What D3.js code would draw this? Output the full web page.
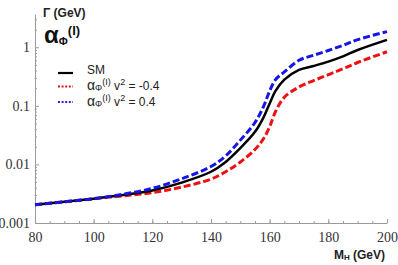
<!DOCTYPE html>
<html>
<head>
<meta charset="utf-8">
<script src="https://cdn.jsdelivr.net/npm/d3@7"></script>
<style>
  html, body { margin: 0; padding: 0; background: #fff; }
  svg { display: block; }
</style>
</head>
<body>
<div id="chart"></div>
<script>
// Higgs mass (GeV) and total width (GeV) for each curve
const masses     = [80, 90, 100, 110, 120, 130, 140, 145, 150, 155, 158, 160, 162, 165, 170, 175, 180, 185, 190, 200];
const widthSM    = [0.00205, 0.0023, 0.0026, 0.0030, 0.0036, 0.0049, 0.0075, 0.011, 0.019, 0.036, 0.065, 0.11, 0.18, 0.28, 0.41, 0.48, 0.57, 0.70, 0.90, 1.34];
const widthMinus = [0.00205, 0.0023, 0.0026, 0.0029, 0.0033, 0.0041, 0.0056, 0.0075, 0.011, 0.018, 0.028, 0.044, 0.08, 0.14, 0.21, 0.27, 0.34, 0.43, 0.55, 0.84];
const widthPlus  = [0.00205, 0.0023, 0.0026, 0.0031, 0.0039, 0.0057, 0.0092, 0.014, 0.026, 0.052, 0.10, 0.18, 0.28, 0.38, 0.60, 0.73, 0.88, 1.08, 1.35, 1.85];

const xTicks = [80, 100, 120, 140, 160, 180, 200];
const yTicks = [0.001, 0.01, 0.1, 1];
const yTickLabels = ["0.001", "0.01", "0.1", "1"];
const legendValues = ["-0.4", "0.4"];

const width = 398, height = 265;

const svg = d3.select("#chart").append("svg")
  .attr("width", width)
  .attr("height", height);

const x = d3.scaleLinear().domain([80, 200]).range([35, 387]);
const y = d3.scaleLog().domain([0.001, 3.7]).range([223, 14]);

/* minor ticks */
const xMinor = d3.range(80, 201, 5);
const yMinor = [];
[0.001, 0.01, 0.1, 1].forEach(d => {
  for (let k = 2; k <= 9; k++) if (d * k <= 3.7) yMinor.push(d * k);
});

const axisColor = "#9a9a9a";

svg.append("g")
  .attr("transform", "translate(0,223)")
  .call(d3.axisBottom(x).tickValues(xMinor).tickSize(-2).tickSizeOuter(0).tickFormat(""))
  .call(g => g.select(".domain").attr("stroke", axisColor))
  .call(g => g.selectAll(".tick line").attr("stroke", axisColor));

svg.append("g")
  .attr("transform", "translate(0,223)")
  .call(d3.axisBottom(x).tickValues(xTicks).tickSize(-4).tickSizeOuter(0).tickPadding(9))
  .call(g => g.select(".domain").remove())
  .call(g => g.selectAll(".tick line").attr("stroke", axisColor))
  .call(g => g.selectAll(".tick text")
    .attr("font-family", "'Liberation Serif', 'DejaVu Serif', serif")
    .attr("font-size", 14)
    .attr("fill", "#333"));

svg.append("g")
  .attr("transform", "translate(35,0)")
  .call(d3.axisLeft(y).tickValues(yMinor).tickSize(-2).tickSizeOuter(0).tickFormat(""))
  .call(g => g.select(".domain").attr("stroke", axisColor))
  .call(g => g.selectAll(".tick line").attr("stroke", axisColor));

svg.append("g")
  .attr("transform", "translate(35,0)")
  .call(d3.axisLeft(y).tickValues(yTicks).tickSize(-4).tickSizeOuter(0).tickPadding(5)
    .tickFormat((d, i) => yTickLabels[i]))
  .call(g => g.select(".domain").remove())
  .call(g => g.selectAll(".tick line").attr("stroke", axisColor))
  .call(g => g.selectAll(".tick text")
    .attr("font-family", "'Liberation Serif', 'DejaVu Serif', serif")
    .attr("font-size", 14)
    .attr("fill", "#333"));

/* curves */
const series = [
  { values: widthMinus, color: "#ee1111", dash: "7,3", w: 3 },
  { values: widthSM,    color: "#000",    dash: null,  w: 2.5 },
  { values: widthPlus,  color: "#1515e6", dash: "7,3", w: 3 }
];

const line = d3.line()
  .x((d, i) => x(masses[i]))
  .y(d => y(d))
  .curve(d3.curveCatmullRom.alpha(0.5));

svg.append("g").selectAll("path")
  .data(series)
  .join("path")
  .attr("d", d => line(d.values))
  .attr("fill", "none")
  .attr("stroke", d => d.color)
  .attr("stroke-width", d => d.w)
  .attr("stroke-dasharray", d => d.dash);

/* titles */
const sans = "'Liberation Sans', Arial, sans-serif";

svg.append("text")
  .attr("x", 43).attr("y", 17)
  .attr("font-family", sans).attr("font-size", 12).attr("font-weight", "bold")
  .attr("fill", "#222")
  .text("Γ (GeV)");

const coup = svg.append("text")
  .attr("x", 44).attr("y", 43)
  .attr("font-family", sans).attr("font-weight", "bold").attr("fill", "#111");
coup.append("tspan").attr("font-size", 24).text("α");
coup.append("tspan").attr("font-size", 11).attr("dy", 2).text("Φ");
coup.append("tspan").attr("font-size", 13).attr("dy", -10).text("(I)");

const xt = svg.append("text")
  .attr("x", 385).attr("y", 259).attr("text-anchor", "end")
  .attr("font-family", sans).attr("font-size", 12).attr("font-weight", "bold")
  .attr("fill", "#222");
xt.append("tspan").text("M");
xt.append("tspan").attr("font-size", 8).attr("dy", 1).text("H");
xt.append("tspan").attr("dy", -1).text(" (GeV)");

/* legend */
const legend = svg.append("g");
const rows = [
  { color: "#000", dash: null, label: null, y: 73 },
  { color: "#dd1122", dash: "2,1.6", label: legendValues[0], y: 86.5 },
  { color: "#2222dd", dash: "2,1.6", label: legendValues[1], y: 102 }
];

legend.selectAll("line")
  .data(rows)
  .join("line")
  .attr("x1", 58).attr("x2", 73)
  .attr("y1", d => d.y).attr("y2", d => d.y)
  .attr("stroke", d => d.color)
  .attr("stroke-width", d => d.dash ? 1.8 : 2.2)
  .attr("stroke-dasharray", d => d.dash);

legend.selectAll("text")
  .data(rows)
  .join("text")
  .attr("x", 87).attr("y", (d, i) => d.y + (i ? 3.5 : 1))
  .attr("font-family", sans).attr("font-size", 12)
  .attr("fill", "#222")
  .each(function(d) {
    const t = d3.select(this);
    if (!d.label) { t.text("SM"); return; }
    t.append("tspan").attr("font-size", 14).text("α");
    t.append("tspan").attr("font-size", 9).attr("dy", 1).text("Φ");
    t.append("tspan").attr("font-size", 9).attr("dy", -6).text("(I)");
    t.append("tspan").attr("dy", 5).text(" v");
    t.append("tspan").attr("font-size", 9).attr("dy", -5).text("2");
    t.append("tspan").attr("dy", 5).text(" = " + d.label);
  });
</script>
</body>
</html>
